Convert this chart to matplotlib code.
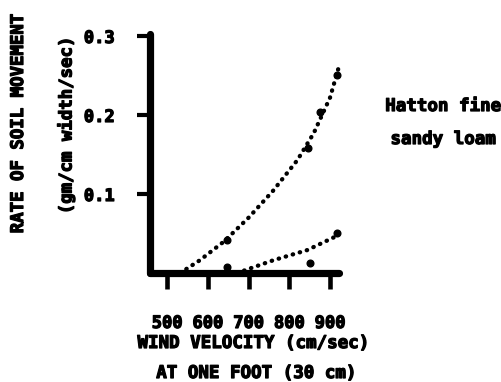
import matplotlib
matplotlib.use("Agg")
import matplotlib.pyplot as plt
import matplotlib.patheffects as pe

# ---- data ----
x_ticks = [500, 600, 700, 800, 900]
y_ticks = [0.1, 0.2, 0.3]
y_tick_labels = ["0.1", "0.2", "0.3"]

upper_curve_x = [532, 580, 640, 700, 760, 820, 860, 900, 920]
upper_curve_y = [0.0, 0.016, 0.040, 0.070, 0.104, 0.143, 0.177, 0.222, 0.258]
upper_pts_x = [647, 846, 875, 917]
upper_pts_y = [0.042, 0.158, 0.204, 0.251]

lower_curve_x = [672, 760, 844, 917]
lower_curve_y = [0.0, 0.016, 0.029, 0.047]
lower_pts_x = [647, 851, 917]
lower_pts_y = [0.0076, 0.0127, 0.051]

W, H = 501, 382
fig = plt.figure(figsize=(W / 100, H / 100), dpi=100)
fig.patch.set_facecolor("white")

FONT = "DejaVu Sans Mono"
stroke = [pe.withStroke(linewidth=0.9, foreground="black")]

def px(x, y):
    return x / W, 1 - y / H

left, right = px(150, 0)[0], px(339, 0)[0]
bottom, top = 1 - 273 / H, 1 - 33.6 / H
ax = fig.add_axes([left, bottom, right - left, top - bottom])
ax.set_xlim(458, 922)
ax.set_ylim(0, 0.303)

for s in ["top", "right"]:
    ax.spines[s].set_visible(False)
for s in ["left", "bottom"]:
    ax.spines[s].set_linewidth(5.2)
    ax.spines[s].set_capstyle("round")
ax.spines["left"].set_bounds(0, 0.303)

ax.set_xticks(x_ticks)
ax.set_xticklabels([str(v) for v in x_ticks])
ax.set_yticks(y_ticks)
ax.set_yticklabels(y_tick_labels)
ax.tick_params(axis="x", direction="out", length=11.5, width=3.3, pad=18,
               labelsize=12.3)
ax.tick_params(axis="y", direction="out", length=9.5, width=3.0, pad=16,
               labelsize=12.3)
for lab in ax.get_xticklabels() + ax.get_yticklabels():
    lab.set_fontfamily(FONT)
    lab.set_fontweight("bold")
    lab.set_path_effects(stroke)
for t in ax.xaxis.get_major_ticks() + ax.yaxis.get_major_ticks():
    t.tick1line.set_solid_capstyle("round")

dot_style = dict(color="black", linewidth=3.1, linestyle=(0, (0.1, 1.6)),
                 dash_capstyle="round", clip_on=False)
ax.plot(upper_curve_x, upper_curve_y, **dot_style)
ax.plot(lower_curve_x, lower_curve_y, **dot_style)
ax.plot(upper_pts_x, upper_pts_y, "o", color="black", markersize=4.8, clip_on=False)
ax.plot(lower_pts_x, lower_pts_y, "o", color="black", markersize=4.8, clip_on=False)

txt = dict(family=FONT, fontweight="bold", color="black", path_effects=stroke)
fig.text(*px(18, 123), "RATE OF SOIL MOVEMENT", rotation=90, ha="center",
         va="center", fontsize=12.5, **txt)
fig.text(*px(66, 125), "(gm/cm width/sec)", rotation=90, ha="center",
         va="center", fontsize=12.5, **txt)
fig.text(*px(253, 343), "WIND VELOCITY (cm/sec)", ha="center", va="center",
         fontsize=12.6, **txt)
fig.text(*px(256, 373), "AT ONE FOOT (30 cm)", ha="center", va="center",
         fontsize=12.6, **txt)
fig.text(*px(443, 106), "Hatton fine", ha="center", va="center",
         fontsize=12.6, **txt)
fig.text(*px(443, 139), "sandy loam", ha="center", va="center",
         fontsize=12.6, **txt)

fig.savefig("out.png", dpi=100, facecolor="white")
